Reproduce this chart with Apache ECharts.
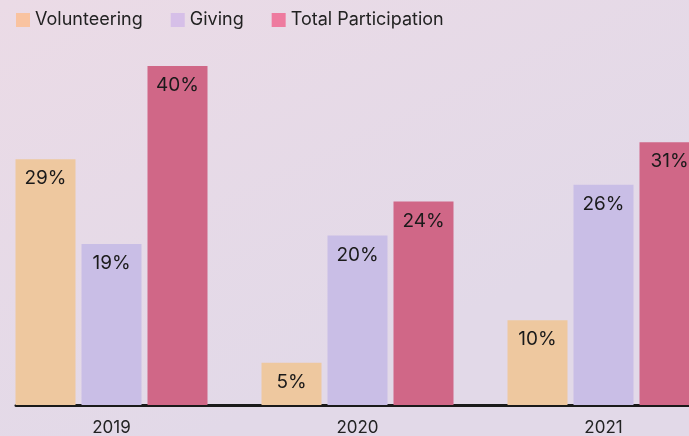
<!DOCTYPE html>
<html>
<head>
<meta charset="utf-8">
<script src="https://cdn.jsdelivr.net/npm/echarts@6/dist/echarts.min.js"></script>
<style>
  html, body { margin: 0; padding: 0; }
  #chart { width: 689px; height: 436px; }
</style>
</head>
<body>
<div id="chart"></div>
<script>
// data
const years = ['2019', '2020', '2021'];
const volunteering = [29, 5, 10];
const giving = [19, 20, 26];
const totalParticipation = [40, 24, 31];

const chart = echarts.init(document.getElementById('chart'));

const labelStyle = {
  show: true,
  position: 'insideTop',
  distance: 10,
  color: '#1a1a1a',
  fontFamily: 'Inter',
  fontSize: 19,
  formatter: '{c}%'
};

chart.setOption({
  animation: false,
  backgroundColor: {
    type: 'linear', x: 0, y: 0, x2: 0.3, y2: 1,
    colorStops: [
      { offset: 0, color: '#EBDBE6' },
      { offset: 1, color: '#E2D9E8' }
    ]
  },
  legend: {
    left: 16,
    top: 11,
    padding: 0,
    itemWidth: 14,
    itemHeight: 14,
    itemGap: 28,
    icon: 'rect',
    textStyle: { color: '#222', fontFamily: 'Inter', fontSize: 18 },
    data: [
      { name: 'Volunteering', itemStyle: { color: '#F9C3A0' } },
      { name: 'Giving', itemStyle: { color: '#D6BFE8' } },
      { name: 'Total Participation', itemStyle: { color: '#EE7B9F' } }
    ]
  },
  grid: [
    { left: -11.5, right: -37.5, top: 66, bottom: 31, outerBoundsMode: 'none' },
    { left: 16, right: -40, top: 66, bottom: 31, outerBoundsMode: 'none' }
  ],
  xAxis: [{
    type: 'category',
    gridIndex: 0,
    data: years,
    axisLine: { show: false },
    axisTick: { show: false },
    axisLabel: { color: '#222', fontFamily: 'Inter', fontSize: 17, margin: 14 }
  }, {
    type: 'value',
    gridIndex: 1,
    axisLine: { show: true, lineStyle: { color: '#1a1a1a', width: 3 } },
    axisTick: { show: false },
    axisLabel: { show: false },
    splitLine: { show: false }
  }],
  yAxis: [{
    type: 'value',
    gridIndex: 0,
    min: 0,
    max: 40,
    show: false
  }, {
    type: 'value',
    gridIndex: 1,
    show: false
  }],
  series: [{
    name: 'Volunteering',
    type: 'bar',
    barWidth: 60,
    barGap: '10%',
    itemStyle: { color: '#EEC89F' },
    label: labelStyle,
    data: volunteering
  }, {
    name: 'Giving',
    type: 'bar',
    barWidth: 60,
    barGap: '10%',
    itemStyle: { color: '#C9BEE6' },
    label: labelStyle,
    data: giving
  }, {
    name: 'Total Participation',
    type: 'bar',
    barWidth: 60,
    barGap: '10%',
    itemStyle: { color: '#D06787' },
    label: labelStyle,
    data: totalParticipation
  }]
});
</script>
</body>
</html>
